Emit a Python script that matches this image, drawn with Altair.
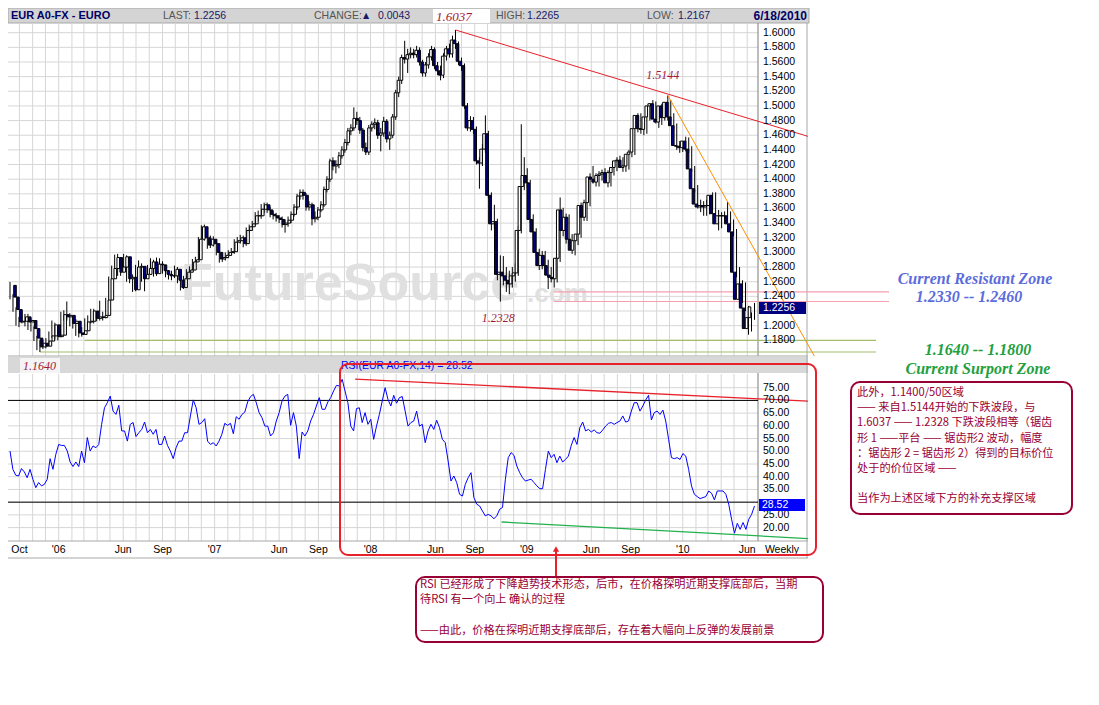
import altair as alt
import pandas as pd

W, H = 1083, 689

# ---------------- data ----------------
first_date = "2005-09-09"
last_date = "2010-06-18"
first_open = 1.255

close = [1.239, 1.222, 1.205, 1.206, 1.212, 1.205, 1.207, 1.196, 1.183, 1.171,
         1.176, 1.172, 1.179, 1.186, 1.201, 1.185, 1.187, 1.215, 1.212, 1.214,
         1.203, 1.206, 1.190, 1.188, 1.193, 1.205, 1.206, 1.220, 1.210, 1.212,
         1.211, 1.214, 1.235, 1.264, 1.278, 1.293, 1.273, 1.280, 1.294, 1.264,
         1.266, 1.249, 1.280, 1.281, 1.264, 1.270, 1.278, 1.287, 1.271, 1.284,
         1.283, 1.275, 1.270, 1.268, 1.268, 1.277, 1.262, 1.252, 1.264, 1.273,
         1.276, 1.287, 1.290, 1.318, 1.335, 1.320, 1.310, 1.318, 1.312, 1.300,
         1.291, 1.293, 1.296, 1.300, 1.301, 1.314, 1.316, 1.320, 1.312, 1.330,
         1.335, 1.339, 1.350,
         1.350, 1.359, 1.365, 1.358, 1.352, 1.350, 1.347, 1.345, 1.338, 1.340,
         1.344, 1.352, 1.362, 1.377, 1.382, 1.378, 1.362, 1.365, 1.346, 1.348,
         1.358, 1.365, 1.386, 1.400, 1.425, 1.418, 1.420, 1.432, 1.440, 1.450,
         1.466, 1.470, 1.483, 1.480, 1.467, 1.443, 1.437, 1.470, 1.475, 1.477,
         1.460, 1.463, 1.479, 1.455, 1.460, 1.485, 1.518, 1.535, 1.566, 1.564,
         1.570, 1.572, 1.570, 1.576, 1.560, 1.545, 1.556, 1.567, 1.577, 1.555,
         1.548, 1.542, 1.568, 1.578, 1.571, 1.590, 1.585, 1.561, 1.555, 1.500,
         1.470, 1.480, 1.468, 1.425, 1.422, 1.441, 1.462, 1.378, 1.339, 1.342,
         1.270, 1.273, 1.268, 1.262,
         1.257, 1.268, 1.272, 1.330, 1.390, 1.405, 1.395, 1.345, 1.328, 1.300,
         1.282, 1.296, 1.282, 1.269, 1.266, 1.264, 1.292, 1.358, 1.330, 1.348,
         1.318, 1.303, 1.316, 1.325, 1.364, 1.348, 1.368, 1.403, 1.400, 1.396,
         1.405, 1.407, 1.409, 1.395, 1.409, 1.416, 1.425, 1.426, 1.416, 1.418,
         1.434, 1.437, 1.469, 1.487, 1.469, 1.468, 1.485, 1.500, 1.503, 1.482,
         1.478, 1.500, 1.484, 1.505, 1.485, 1.473, 1.446, 1.445, 1.443, 1.452,
         1.441, 1.414, 1.387, 1.366, 1.362, 1.364, 1.362, 1.364, 1.378, 1.353,
         1.339, 1.350, 1.350, 1.350, 1.339, 1.328, 1.273, 1.236, 1.257, 1.224,
         1.196, 1.211, 1.2256]

high = [1.2595, 1.243, 1.225, 1.212, 1.221, 1.216, 1.216, 1.210, 1.199, 1.186,
        1.180, 1.181, 1.183, 1.192, 1.207, 1.204, 1.192, 1.219, 1.221, 1.233,
        1.217, 1.211, 1.209, 1.196, 1.198, 1.210, 1.214, 1.223, 1.223, 1.218,
        1.234, 1.219, 1.238, 1.267, 1.282, 1.297, 1.298, 1.286, 1.298, 1.296,
        1.272, 1.270, 1.283, 1.289, 1.285, 1.274, 1.283, 1.292, 1.290, 1.293,
        1.292, 1.288, 1.280, 1.276, 1.275, 1.282, 1.280, 1.265, 1.268, 1.277,
        1.281, 1.291, 1.294, 1.321, 1.337, 1.338, 1.324, 1.323, 1.322, 1.316,
        1.303, 1.297, 1.300, 1.303, 1.306, 1.318, 1.321, 1.324, 1.323, 1.334,
        1.338, 1.343, 1.355,
        1.357, 1.366, 1.368, 1.368, 1.362, 1.357, 1.354, 1.351, 1.349, 1.345,
        1.349, 1.356, 1.366, 1.380, 1.386, 1.386, 1.381, 1.370, 1.368, 1.356,
        1.362, 1.370, 1.390, 1.404, 1.428, 1.430, 1.426, 1.437, 1.445, 1.455,
        1.470, 1.475, 1.498, 1.492, 1.485, 1.470, 1.450, 1.474, 1.479, 1.483,
        1.481, 1.470, 1.485, 1.482, 1.465, 1.489, 1.522, 1.540, 1.570, 1.589,
        1.578, 1.580, 1.578, 1.582, 1.580, 1.563, 1.560, 1.572, 1.582, 1.580,
        1.560, 1.555, 1.572, 1.582, 1.585, 1.596, 1.6037, 1.588, 1.566, 1.558,
        1.504, 1.486, 1.485, 1.472, 1.430, 1.448, 1.487, 1.466, 1.382, 1.365,
        1.346, 1.296, 1.295, 1.280,
        1.275, 1.280, 1.285, 1.336, 1.475, 1.430, 1.415, 1.399, 1.352, 1.333,
        1.305, 1.302, 1.302, 1.290, 1.280, 1.272, 1.297, 1.375, 1.361, 1.353,
        1.352, 1.325, 1.321, 1.330, 1.368, 1.372, 1.374, 1.408, 1.418, 1.408,
        1.411, 1.413, 1.415, 1.412, 1.414, 1.421, 1.430, 1.432, 1.430, 1.425,
        1.440, 1.443, 1.473, 1.490, 1.490, 1.478, 1.490, 1.504, 1.508, 1.506,
        1.490, 1.503, 1.503, 1.5144, 1.508, 1.490, 1.476, 1.452, 1.450, 1.458,
        1.457, 1.445, 1.418, 1.392, 1.372, 1.370, 1.372, 1.370, 1.382, 1.382,
        1.358, 1.355, 1.356, 1.369, 1.356, 1.345, 1.332, 1.280, 1.262, 1.259,
        1.227, 1.218, 1.231]

low = [1.236, 1.219, 1.200, 1.198, 1.203, 1.199, 1.194, 1.192, 1.179, 1.1665,
       1.164, 1.168, 1.169, 1.176, 1.183, 1.181, 1.180, 1.184, 1.207, 1.207,
       1.199, 1.196, 1.186, 1.184, 1.185, 1.190, 1.198, 1.203, 1.203, 1.206,
       1.207, 1.207, 1.210, 1.232, 1.260, 1.274, 1.268, 1.268, 1.275, 1.260,
       1.258, 1.246, 1.247, 1.275, 1.260, 1.247, 1.265, 1.274, 1.267, 1.268,
       1.278, 1.271, 1.266, 1.263, 1.262, 1.265, 1.258, 1.248, 1.250, 1.261,
       1.270, 1.273, 1.283, 1.287, 1.315, 1.316, 1.305, 1.306, 1.308, 1.296,
       1.286, 1.287, 1.289, 1.292, 1.296, 1.298, 1.310, 1.312, 1.307, 1.309,
       1.326, 1.330, 1.336,
       1.343, 1.346, 1.354, 1.354, 1.348, 1.345, 1.342, 1.340, 1.334, 1.327,
       1.335, 1.340, 1.349, 1.358, 1.372, 1.372, 1.357, 1.357, 1.337, 1.341,
       1.344, 1.355, 1.362, 1.382, 1.396, 1.412, 1.408, 1.415, 1.428, 1.436,
       1.446, 1.460, 1.466, 1.474, 1.462, 1.438, 1.433, 1.433, 1.465, 1.468,
       1.455, 1.438, 1.458, 1.450, 1.440, 1.456, 1.481, 1.512, 1.530, 1.558,
       1.545, 1.565, 1.565, 1.566, 1.555, 1.540, 1.540, 1.551, 1.562, 1.550,
       1.542, 1.535, 1.538, 1.562, 1.566, 1.566, 1.578, 1.556, 1.548, 1.496,
       1.466, 1.465, 1.462, 1.420, 1.387, 1.418, 1.436, 1.374, 1.330, 1.332,
       1.262, 1.2328, 1.255, 1.246,
       1.243, 1.252, 1.260, 1.268, 1.326, 1.385, 1.388, 1.340, 1.318, 1.294,
       1.276, 1.277, 1.277, 1.250, 1.259, 1.252, 1.259, 1.287, 1.322, 1.312,
       1.310, 1.298, 1.296, 1.310, 1.320, 1.343, 1.343, 1.363, 1.394, 1.390,
       1.390, 1.398, 1.400, 1.389, 1.390, 1.405, 1.411, 1.419, 1.410, 1.410,
       1.413, 1.430, 1.433, 1.464, 1.462, 1.460, 1.462, 1.480, 1.494, 1.476,
       1.470, 1.474, 1.480, 1.480, 1.480, 1.468, 1.440, 1.436, 1.437, 1.438,
       1.436, 1.410, 1.382, 1.360, 1.355, 1.350, 1.350, 1.352, 1.358, 1.346,
       1.330, 1.333, 1.342, 1.340, 1.330, 1.322, 1.266, 1.230, 1.231, 1.220,
       1.1877, 1.192, 1.208]

rsi = [50.1, 42.9, 40.6, 40.3, 43.2, 41.9, 39.6, 42.9, 39.0, 35.7, 37.7, 36.4, 37.0, 39.0,
       47.1, 42.9, 48.8, 52.7, 52.3, 52.3, 50.1, 45.8, 44.0, 45.8, 44.0, 50.1, 45.5, 55.4,
       50.1, 52.1, 51.4, 52.7, 60.6, 67.1, 69.1, 71.7, 65.8, 64.5, 68.1, 58.0, 58.0, 54.0,
       60.6, 61.3, 55.8, 57.3, 58.6, 61.5, 57.3, 58.6, 56.7, 58.6, 52.7, 52.7, 56.0, 52.3,
       50.1, 47.1, 51.4, 54.0, 54.0, 57.3, 57.3, 63.9, 70.2, 67.1, 60.6, 61.3, 62.8, 54.0,
       52.7, 53.4, 52.1, 54.0, 56.7, 61.0, 60.2, 61.0, 56.9, 63.6, 62.6, 64.5, 65.4, 69.4,
       71.5, 72.4, 69.1, 65.2, 63.2, 59.9, 59.9, 56.0, 57.3, 61.9, 65.2, 69.8, 71.7, 72.4,
       60.2, 65.2, 59.9, 47.1, 57.6, 56.0, 58.0, 61.9, 64.5, 67.8, 71.1, 66.5, 66.5, 69.4,
       71.1, 73.7, 75.9, 75.7, 78.3, 73.7, 69.1, 59.9, 58.0, 66.8, 67.1, 61.3, 65.2, 60.6,
       62.6, 54.7, 59.9, 64.5, 69.8, 75.0, 70.4, 67.8, 72.0, 68.9, 71.1, 71.5, 65.8, 59.9,
       61.3, 61.9, 65.8, 59.9, 60.6, 53.4, 58.0, 60.6, 58.6, 62.2, 59.3, 54.7, 53.4, 46.2,
       38.3, 40.3, 37.7, 33.1, 32.4, 37.0, 39.6, 41.6, 31.8, 29.2, 28.5, 26.5, 24.6, 25.2,
       24.6, 23.5, 24.6, 27.2, 27.9, 39.0, 47.5, 49.5, 48.4, 44.2, 41.6, 39.6, 38.3, 38.7,
       39.0, 37.7, 36.4, 35.3, 35.3, 42.9, 50.1, 47.5, 48.8, 45.5, 48.1, 45.8, 46.8, 48.1,
       52.3, 55.4, 52.7, 59.3, 61.5, 58.0, 58.6, 57.6, 58.4, 57.3, 57.1, 58.4, 59.9, 61.0,
       61.3, 60.6, 61.3, 61.9, 63.9, 61.5, 61.9, 65.8, 69.1, 69.1, 65.8, 67.8, 70.2, 72.0,
       62.3, 65.2, 65.8, 64.5, 66.2, 61.9, 54.7, 47.5, 47.1, 47.5, 46.8, 49.1, 48.1, 42.9,
       36.4, 33.1, 32.2, 31.4, 31.8, 32.2, 34.4, 33.5, 30.9, 34.4, 34.4, 34.4, 33.1, 29.2,
       23.3, 17.8, 21.7, 19.3, 22.0, 19.3, 23.3, 25.2, 28.5]

# tick labels (the ones hidden behind the value boxes in the picture are left out)
price_grid = [1.60, 1.58, 1.56, 1.54, 1.52, 1.50, 1.48, 1.46, 1.44, 1.42, 1.40,
              1.38, 1.36, 1.34, 1.32, 1.30, 1.28, 1.26, 1.24, 1.22, 1.20, 1.18]
price_labels = [1.60, 1.58, 1.56, 1.54, 1.52, 1.50, 1.48, 1.46, 1.44, 1.42, 1.40,
                1.38, 1.36, 1.34, 1.32, 1.30, 1.28, 1.26, 1.24, 1.20, 1.18]
rsi_grid = [75, 70, 65, 60, 55, 50, 45, 40, 35, 30, 25, 20]
rsi_labels = [75, 70, 65, 60, 55, 50, 45, 40, 35, 25, 20]
date_tick_dates = ["2005-10-01", "2006-01-01", "2006-06-01", "2006-09-01", "2007-01-01",
                   "2007-06-01", "2007-09-01", "2008-01-01", "2008-06-01", "2008-09-01",
                   "2009-01-01", "2009-06-01", "2009-09-01", "2010-01-01", "2010-06-01"]
date_tick_labels = ["Oct", "'06", "Jun", "Sep", "'07", "Jun", "Sep", "'08", "Jun", "Sep",
                    "'09", "Jun", "Sep", "'10", "Jun"]

# trend / level lines (dates, values)
price_red_line = {"date": ["2008-07-18", "2010-10-21"], "v": [1.6037, 1.4585]}
price_orange_line = {"date": ["2009-11-27", "2010-11-05"], "v": [1.5144, 1.1586]}
rsi_red_line = {"date": ["2007-11-26", "2010-10-21"], "v": [78.4, 69.7]}
rsi_green_line = {"date": ["2008-11-03", "2010-10-21"], "v": [22.2, 15.7]}
resist_levels = {"date": ["2009-03-05", "2009-03-05"], "v": [1.2460, 1.2330]}
support_levels = {"date": ["2006-03-03", "2005-11-18"], "v": [1.1800, 1.1640]}
peak_mark = {"date": ["2009-11-27"], "v": [1.5144], "t": ["1.5144"]}
trough_mark = {"date": ["2008-10-31"], "v": [1.2328], "t": ["1.2328"]}

# ---------------- frames ----------------
dates = pd.date_range(first_date, periods=len(close), freq="7D")
opens = [first_open] + close[:-1]
cd = pd.DataFrame({"date": dates.strftime("%Y-%m-%d"), "open": opens, "close": close,
                   "high": high, "low": low})
rsi_dates = pd.date_range(first_date, last_date, periods=len(rsi))
rd = pd.DataFrame({"date": rsi_dates.strftime("%Y-%m-%dT%H:%M:%SZ"), "rsi": rsi})
months = pd.DataFrame({"date": pd.date_range("2005-10-01", "2010-06-01", freq="MS").strftime("%Y-%m-%d")})
pg = pd.DataFrame({"p": price_grid})
pl = pd.DataFrame({"p": price_labels, "lab": [f"{v:.4f}" for v in price_labels]})
rg = pd.DataFrame({"r": rsi_grid})
rl = pd.DataFrame({"r": rsi_labels, "lab": [f"{v:.2f}" for v in rsi_labels]})
dt = pd.DataFrame({"date": date_tick_dates, "lab": date_tick_labels})
one = pd.DataFrame({"k": [0]})


def D(y, m, d):
    return alt.DateTime(year=y, month=m, date=d, utc=True)


XS = alt.Scale(domain=[D(2005, 9, 9), D(2010, 6, 18)], range=[2, 746.5], nice=False)
YP = alt.Scale(domain=[1.18, 1.60], range=[332.3, 24.7], nice=False, zero=False)
YR = alt.Scale(domain=[20, 75], range=[519.6, 379.7], nice=False, zero=False)
XD = alt.X("date:T", scale=XS, axis=None)


def rect(x1, x2, y1, y2, **kw):
    return alt.Chart(one).mark_rect(**kw).encode(
        x=alt.value(x1), x2=alt.value(x2), y=alt.value(y1), y2=alt.value(y2))


def vrule(x, y1, y2, **kw):
    return alt.Chart(one).mark_rule(**kw).encode(x=alt.value(x), y=alt.value(y1), y2=alt.value(y2))


def hrule(x1, x2, y, **kw):
    return alt.Chart(one).mark_rule(**kw).encode(x=alt.value(x1), x2=alt.value(x2), y=alt.value(y))


def text(s, x, y, **kw):
    return alt.Chart(one).mark_text(text=s, **kw).encode(x=alt.value(x), y=alt.value(y))


SANS = "Liberation Sans"
SERIF = "Liberation Serif"
CJK = "Noto Sans CJK SC"
GRID = "#d6d6d6"
DARKRED = "#a0183c"
BOXRED = "#990033"

layers = []
# backgrounds
layers += [
    rect(0, 801, 0, 15, fill="#d4d4d4", stroke="#a8a8a8", strokeWidth=1),
    rect(425, 482, 1, 15, fill="white"),
    rect(0, 800, 349, 365, fill="#d8d8d8"),
    rect(12, 52, 350, 365, fill="#f4f4f4"),
]
# grids
layers += [
    alt.Chart(months).mark_rule(color=GRID).encode(x=XD, y=alt.value(15), y2=alt.value(348)),
    alt.Chart(months).mark_rule(color=GRID).encode(x=XD, y=alt.value(366), y2=alt.value(533)),
    alt.Chart(pg).mark_rule(color=GRID).encode(
        y=alt.Y("p:Q", scale=YP, axis=None), x=alt.value(0), x2=alt.value(750)),
    alt.Chart(rg).mark_rule(color=GRID).encode(
        y=alt.Y("r:Q", scale=YR, axis=None), x=alt.value(0), x2=alt.value(750)),
]
# watermark
layers += [
    text("FutureSource", 173, 292, font=SANS, fontSize=52, fontWeight="bold",
         color="#e0e0e0", align="left", baseline="alphabetic"),
    text(".com", 519, 294, font=SANS, fontSize=26, fontWeight="bold",
         color="#e0e0e0", align="left", baseline="alphabetic"),
]
# frame lines
layers += [
    vrule(750, 15, 348, color="#7a7a7a"),
    vrule(750, 365, 533, color="#7a7a7a"),
    vrule(799, 15, 550, color="#a8a8a8"),
    hrule(0, 800, 348, color="#a8a8a8"),
    hrule(0, 800, 533, color="#a8a8a8"),
    hrule(0, 800, 550, color="#a8a8a8"),
]
# level lines
resist_df = pd.DataFrame(resist_levels)
support_df = pd.DataFrame(support_levels)
layers += [
    alt.Chart(resist_df).mark_rule(color="#f5a0b0", strokeWidth=1.2).encode(
        x=XD, x2=alt.value(881), y=alt.Y("v:Q", scale=YP, axis=None)),
    alt.Chart(support_df).mark_rule(color="#a3bd6a", strokeWidth=1.2).encode(
        x=XD, x2=alt.value(868), y=alt.Y("v:Q", scale=YP, axis=None)),
]
# candles
layers += [
    alt.Chart(cd).mark_rule(color="black", strokeWidth=1).encode(
        x=XD, y=alt.Y("low:Q", scale=YP, axis=None), y2="high:Q"),
    alt.Chart(cd).mark_bar(size=2.6, stroke="black", strokeWidth=1).encode(
        x=XD, y=alt.Y("open:Q", scale=YP, axis=None), y2="close:Q",
        fill=alt.condition("datum.close >= datum.open", alt.value("white"), alt.value("#000080"))),
]
# trend lines
layers += [
    alt.Chart(pd.DataFrame(price_red_line)).mark_line(color="#e8202a", strokeWidth=1).encode(
        x=XD, y=alt.Y("v:Q", scale=YP, axis=None)),
    alt.Chart(pd.DataFrame(price_orange_line)).mark_line(color="#ff8c00", strokeWidth=1).encode(
        x=XD, y=alt.Y("v:Q", scale=YP, axis=None)),
]
# RSI
layers += [
    alt.Chart(pd.DataFrame({"r": [70, 30]})).mark_rule(color="black", strokeWidth=1).encode(
        y=alt.Y("r:Q", scale=YR, axis=None), x=alt.value(0), x2=alt.value(750)),
    alt.Chart(rd).mark_line(color="#0000ff", strokeWidth=1).encode(
        x=XD, y=alt.Y("rsi:Q", scale=YR, axis=None)),
    alt.Chart(pd.DataFrame(rsi_red_line)).mark_line(color="#e8202a", strokeWidth=1.3).encode(
        x=XD, y=alt.Y("v:Q", scale=YR, axis=None)),
    alt.Chart(pd.DataFrame(rsi_green_line)).mark_line(color="#22b14c", strokeWidth=1.3).encode(
        x=XD, y=alt.Y("v:Q", scale=YR, axis=None)),
]
# axis labels
layers += [
    alt.Chart(pl).mark_text(align="left", baseline="middle", font=SANS, fontSize=10.5,
                            color="black").encode(
        y=alt.Y("p:Q", scale=YP, axis=None), x=alt.value(755), text="lab:N"),
    alt.Chart(rl).mark_text(align="left", baseline="middle", font=SANS, fontSize=10.5,
                            color="black").encode(
        y=alt.Y("r:Q", scale=YR, axis=None), x=alt.value(755), text="lab:N"),
    alt.Chart(dt).mark_text(align="center", baseline="middle", font=SANS, fontSize=10.5,
                            color="black").encode(x=XD, y=alt.value(542), text="lab:N"),
    text("Weekly", 774, 542, font=SANS, fontSize=10.5, color="black", align="center",
         baseline="middle"),
    rect(751, 798, 294, 306, fill="#000080"),
    text("1.2256", 755, 300, font=SANS, fontSize=10.5, color="white", align="left",
         baseline="middle"),
    rect(751, 797, 491, 503, fill="#0000ff"),
    text("28.52", 754, 497, font=SANS, fontSize=10.5, color="white", align="left",
         baseline="middle"),
]
# header
layers += [
    text("EUR A0-FX - EURO", 3, 8, font=SANS, fontSize=11, fontWeight="bold", color="#000066",
         align="left", baseline="middle"),
    text("LAST:", 155, 8, font=SANS, fontSize=10.5, color="#555555", align="left", baseline="middle"),
    text("1.2256", 186, 8, font=SANS, fontSize=10.5, color="#1a1a66", align="left", baseline="middle"),
    text("CHANGE:", 306, 8, font=SANS, fontSize=10.5, color="#555555", align="left", baseline="middle"),
    text("▲", 355, 8, font="DejaVu Sans", fontSize=8, color="#1a1a66", align="left", baseline="middle"),
    text("0.0043", 370, 8, font=SANS, fontSize=10.5, color="#1a1a66", align="left", baseline="middle"),
    text("HIGH:", 488, 8, font=SANS, fontSize=10.5, color="#555555", align="left", baseline="middle"),
    text("1.2265", 519, 8, font=SANS, fontSize=10.5, color="#1a1a66", align="left", baseline="middle"),
    text("LOW:", 639, 8, font=SANS, fontSize=10.5, color="#555555", align="left", baseline="middle"),
    text("1.2167", 670, 8, font=SANS, fontSize=10.5, color="#1a1a66", align="left", baseline="middle"),
    text("6/18/2010", 799, 8, font=SANS, fontSize=12, fontWeight="bold", color="#000066",
         align="right", baseline="middle"),
    text("1.6037", 428, 9, font=SERIF, fontSize=13, fontStyle="italic", color=DARKRED,
         align="left", baseline="middle"),
]
# price annotations
layers += [
    alt.Chart(pd.DataFrame(peak_mark)).mark_text(font=SERIF, fontSize=12, fontStyle="italic",
                                                 color=DARKRED, align="center",
                                                 baseline="middle", dx=-5, dy=-20).encode(
        x=XD, y=alt.Y("v:Q", scale=YP, axis=None), text="t:N"),
    alt.Chart(pd.DataFrame(trough_mark)).mark_text(font=SERIF, fontSize=12, fontStyle="italic",
                                                   color=DARKRED, align="center",
                                                   baseline="middle", dx=-2, dy=16).encode(
        x=XD, y=alt.Y("v:Q", scale=YP, axis=None), text="t:N"),
    text("1.1640", 15, 358, font=SERIF, fontSize=12, fontStyle="italic", color=DARKRED,
         align="left", baseline="middle"),
    text("RSI(EUR A0-FX,14) = 28.52", 333, 358, font=SANS, fontSize=10.5, color="#0000ff",
         align="left", baseline="middle"),
]
# zone captions
layers += [
    text("Current Resistant Zone", 967, 271, font=SERIF, fontSize=16, fontStyle="italic",
         fontWeight="bold", color="#5c6cdc", align="center", baseline="middle"),
    text("1.2330 -- 1.2460", 961, 289, font=SERIF, fontSize=16, fontStyle="italic",
         fontWeight="bold", color="#5c6cdc", align="center", baseline="middle"),
    text("1.1640 -- 1.1800", 970, 342, font=SERIF, fontSize=16, fontStyle="italic",
         fontWeight="bold", color="#22a040", align="center", baseline="middle"),
    text("Current Surport Zone", 970, 361, font=SERIF, fontSize=16, fontStyle="italic",
         fontWeight="bold", color="#22a040", align="center", baseline="middle"),
]
# boxes and notes
box1_lines = ["此外，1.1400/50区域",
              "—— 来自1.5144开始的下跌波段，与",
              "1.6037 —— 1.2328 下跌波段相等（锯齿",
              "形 1 ——平台 ——  锯齿形2 波动，幅度",
              "：锯齿形 2 = 锯齿形 2）得到的目标价位",
              "处于的价位区域 ——",
              "",
              "当作为上述区域下方的补充支撑区域"]
box2_lines = ["RSI 已经形成了下降趋势技术形态，后市，在价格探明近期支撑底部后，当期",
              "待RSI 有一个向上 确认的过程",
              "",
              "——由此，价格在探明近期支撑底部后，存在着大幅向上反弹的发展前景"]
layers += [
    rect(332, 808, 356, 547, fill="transparent", stroke="#e8202a", strokeWidth=2, cornerRadius=8),
    vrule(548, 541, 568, color="#e8202a", strokeWidth=2),
    alt.Chart(one).mark_point(shape="triangle-up", filled=True, color="#e8202a", size=40,
                              opacity=1).encode(x=alt.value(548), y=alt.value(541)),
    rect(843, 1064, 374, 506, fill="white", stroke=BOXRED, strokeWidth=2, cornerRadius=9),
    rect(408, 815, 569, 634, fill="white", stroke=BOXRED, strokeWidth=2, cornerRadius=9),
]
for k, line in enumerate(box1_lines):
    if line:
        layers.append(text(line, 849, 385 + 15.2 * k, font=CJK, fontSize=11.2, color=BOXRED,
                           align="left", baseline="middle"))
for k, line in enumerate(box2_lines):
    if line:
        layers.append(text(line, 412, 577 + 15.2 * k, font=CJK, fontSize=11.2, color=BOXRED,
                           align="left", baseline="middle"))

chart = alt.layer(*layers).resolve_scale(x="independent", y="independent").properties(
    width=W, height=H, autosize=alt.AutoSizeParams(type="none"), padding=0,
    background="white"
).configure_view(stroke="transparent")

chart.save("out.html", embed_options={"renderer": "svg", "actions": False})
